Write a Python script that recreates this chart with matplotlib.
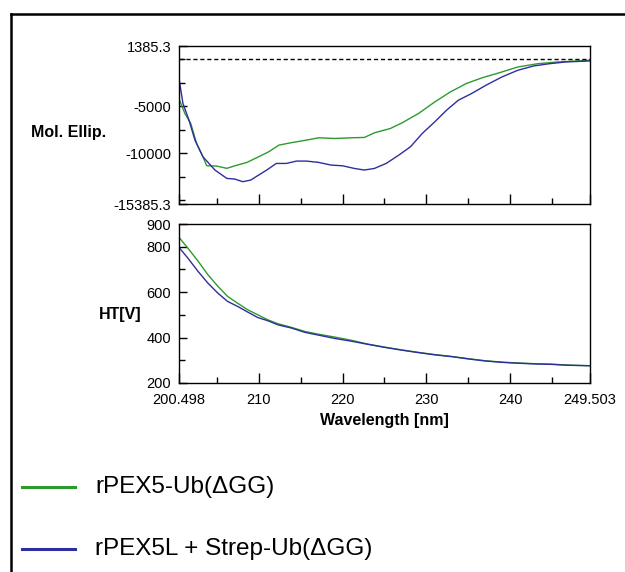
import matplotlib.pyplot as plt
from matplotlib.lines import Line2D
from matplotlib.ticker import FixedLocator

plt.rcParams['font.family'] = ['Liberation Sans', 'DejaVu Sans']

# ---- data ----
WL_MIN, WL_MAX = 200.498, 249.503
CD_MIN, CD_MAX = -15385.3, 1385.3
HT_MIN, HT_MAX = 200, 900

cd_wl_green = [200.6, 201.2, 201.9, 202.6, 203.35, 203.8, 205.0, 206.2, 207.2, 208.6, 210.0,
               211.2, 212.4, 213.8, 215.2, 217.15, 219.05, 221.0, 222.6, 223.8, 225.7, 227.1,
               229.05, 231.0, 232.85, 234.75, 236.7, 238.6, 240.9, 243.3, 245.7, 249.5]
cd_green = [-4450, -5780, -6840, -8960, -10370, -11320, -11360, -11600, -11320, -10970, -10370,
            -9840, -9140, -8890, -8680, -8360, -8430, -8360, -8320, -7830, -7370, -6770,
            -5780, -4550, -3490, -2600, -1970, -1480, -840, -490, -310, -130]

cd_wl_blue = [200.5, 200.97, 201.69, 202.4, 203.35, 204.78, 206.2, 207.16, 208.1, 209.06, 210.0,
              210.96, 212.1, 213.3, 214.5, 215.7, 217.15, 218.6, 220.0, 221.4, 222.6, 223.8,
              225.2, 226.7, 228.1, 229.5, 231.0, 232.4, 233.8, 235.3, 237.1, 239.0, 240.9,
              242.8, 244.7, 246.6, 249.5]
cd_blue = [-2080, -4720, -6490, -8610, -10370, -11780, -12670, -12740, -13020, -12840, -12310,
           -11780, -11080, -11080, -10830, -10830, -10970, -11250, -11330, -11610, -11780, -11610,
           -11080, -10200, -9310, -7900, -6660, -5430, -4370, -3700, -2780, -1900, -1190,
           -730, -490, -310, -200]

ht_wl = [200.5, 201.57, 202.8, 203.96, 205.15, 206.3, 207.5, 208.7, 209.9, 211.1, 212.3,
         213.9, 215.5, 217.1, 219.1, 221.06, 223.05, 225.0, 227.0, 229.0, 231.0, 233.0,
         235.0, 237.0, 238.97, 240.95, 242.9, 244.9, 246.9, 249.5]
ht_green = [841, 793, 735, 676, 625, 581, 551, 522, 500, 478, 461,
            445, 427, 415, 402, 388, 371, 358, 346, 335, 325, 317,
            307, 298, 292, 288, 285, 283, 279, 276]
ht_blue = [797, 749, 690, 639, 595, 559, 537, 512, 488, 474, 456,
           442, 423, 411, 396, 384, 370, 357, 345, 334, 324, 316,
           306, 297, 291, 287, 284, 282, 278, 276]

x_major = [210, 220, 230, 240]
x_minor = [205, 215, 225, 235, 245]
x_labels = ['200.498', '210', '220', '230', '240', '249.503']

legend_names = ['rPEX5-Ub(\u0394GG)', 'rPEX5L + Strep-Ub(\u0394GG)']
GREEN = '#2e9a2e'
BLUE = '#2e2e9e'

fig = plt.figure(figsize=(6.25, 5.72), dpi=100)
W, H = 625, 572


def box(x0, y0, x1, y1):
    return [x0 / W, 1 - y1 / H, (x1 - x0) / W, (y1 - y0) / H]


ax1 = fig.add_axes(box(179, 46, 590, 204))
ax2 = fig.add_axes(box(179, 224, 590, 383))

ax1.plot(cd_wl_green, cd_green, color=GREEN, lw=1.0)
ax1.plot(cd_wl_blue, cd_blue, color=BLUE, lw=1.0)
ax1.axhline(0, color='black', lw=1.0, ls=(0, (3, 2)))
ax1.set_ylim(CD_MIN, CD_MAX)
ax1.set_yticks([CD_MIN, -10000, -5000, CD_MAX])
ax1.set_yticklabels(['-15385.3', '-10000', '-5000', '1385.3'])
ax1.yaxis.set_minor_locator(FixedLocator([-15000, -12500, -7500, -2500, 0]))

ax2.plot(ht_wl, ht_green, color=GREEN, lw=1.0)
ax2.plot(ht_wl, ht_blue, color=BLUE, lw=1.0)
ax2.set_ylim(HT_MIN, HT_MAX)
ax2.set_yticks([200, 400, 600, 800, 900])
ax2.set_yticklabels(['200', '400', '600', '800', '900'])
ax2.yaxis.set_minor_locator(FixedLocator([300, 500, 700]))

for ax in (ax1, ax2):
    ax.set_xlim(WL_MIN, WL_MAX)
    ax.set_xticks([WL_MIN] + x_major + [WL_MAX])
    ax.xaxis.set_minor_locator(FixedLocator(x_minor))
    ax.tick_params(which='both', direction='in', top=False, right=False,
                   labelsize=10.5, width=1, color='black')
    ax.tick_params(axis='y', which='both', pad=5.5)
    ax.tick_params(axis='x', which='both', pad=7.5)
    ax.tick_params(which='major', length=6)
    ax.tick_params(which='minor', length=4)
    ax.tick_params(axis='x', which='major', length=7)
    for s in ax.spines.values():
        s.set_linewidth(1.0)

ax1.set_xticklabels([])
ax2.set_xticklabels(x_labels)

# axis titles
fig.text(106 / W, 1 - 133 / H, 'Mol. Ellip.', ha='right', va='center', fontsize=11.5, fontweight='bold')
fig.text(142 / W, 1 - 314 / H, 'HT[V]', ha='right', va='center', fontsize=11.5, fontweight='bold')
fig.text(384 / W, 1 - 421 / H, 'Wavelength [nm]', ha='center', va='center', fontsize=11.5, fontweight='bold')

# frame around the panel
fig.add_artist(Line2D([11 / W, 11 / W], [0, 1 - 14 / H], color='black', lw=1.8))
fig.add_artist(Line2D([11 / W, 1], [1 - 14 / H, 1 - 14 / H], color='black', lw=1.8))

# legend
for name, col, yy in zip(legend_names, [GREEN, BLUE], [487, 549]):
    fig.add_artist(Line2D([22 / W, 75 / W], [1 - yy / H, 1 - yy / H], color=col, lw=2.2))
    fig.text(95 / W, 1 - yy / H, name, ha='left', va='center', fontsize=17.5)

fig.savefig('out.png', dpi=100)
